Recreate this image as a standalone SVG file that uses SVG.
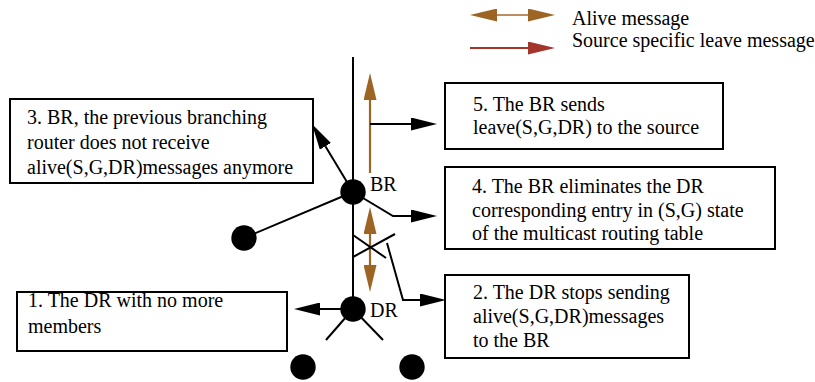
<svg xmlns="http://www.w3.org/2000/svg" width="815" height="382" viewBox="0 0 815 382">
<style>
text{font-family:"Liberation Serif","Times New Roman",serif;font-size:20px;fill:#000}
.box{fill:#fff;stroke:#000;stroke-width:2}
.ln{fill:none;stroke:#000;stroke-width:2}
.br{fill:none;stroke:#9C6524;stroke-width:2.2}
.dot{fill:#000}
</style>
<defs>
<marker id="ah" viewBox="0 0 26 13" refX="0" refY="6.5" markerWidth="26" markerHeight="13" markerUnits="userSpaceOnUse" orient="auto"><path d="M0,0 L26,6.5 L0,13 z" fill="#000"/></marker>
<marker id="ahb" viewBox="0 0 27 13" refX="0" refY="6.5" markerWidth="27" markerHeight="13" markerUnits="userSpaceOnUse" orient="auto-start-reverse"><path d="M0,0 L27,6.5 L0,13 z" fill="#9C6524"/></marker>
<marker id="ahr" viewBox="0 0 27 13" refX="0" refY="6.5" markerWidth="27" markerHeight="13" markerUnits="userSpaceOnUse" orient="auto"><path d="M0,0 L27,6.5 L0,13 z" fill="#A3352A"/></marker>
</defs>

<g id="legend">
<line x1="497" y1="15" x2="528" y2="15" stroke="#A8733A" stroke-width="1.6" marker-start="url(#ahb)" marker-end="url(#ahb)"/>
<text x="572" y="25">Alive message</text>
<line x1="470" y1="48" x2="528" y2="48" stroke="#A3352A" stroke-width="2" marker-end="url(#ahr)"/>
<text x="572" y="47">Source specific leave message</text>
</g>

<g id="connectors">
<line class="ln" x1="353" y1="57" x2="353" y2="309"/>
<line class="br" x1="370" y1="173" x2="370" y2="100" marker-end="url(#ahb)"/>
<line class="ln" x1="370" y1="124" x2="411" y2="124" marker-end="url(#ah)"/>
<line class="ln" x1="353" y1="192" x2="325.4" y2="146.3" marker-end="url(#ah)"/>
<line class="ln" x1="353" y1="192" x2="244" y2="238"/>
<polyline class="ln" points="353,192 393,216 411,216" marker-end="url(#ah)"/>
<line class="br" x1="370" y1="234" x2="370" y2="265" marker-start="url(#ahb)" marker-end="url(#ahb)"/>
<line class="ln" x1="353" y1="235" x2="386" y2="258"/>
<line class="ln" x1="353" y1="257" x2="395" y2="234"/>
<polyline class="ln" points="387,243 403,300 420,300" marker-end="url(#ah)"/>
<line class="ln" x1="353" y1="309" x2="320" y2="309" marker-end="url(#ah)"/>
<line class="ln" x1="353" y1="309" x2="326" y2="340"/>
<line class="ln" x1="353" y1="309" x2="383" y2="340"/>
</g>

<g id="BR">
<circle class="dot" cx="353" cy="192" r="12.7"/>
<text x="370" y="191">BR</text>
</g>
<g id="DR">
<circle class="dot" cx="353" cy="309" r="12.7"/>
<text x="370" y="317">DR</text>
</g>
<g id="router-left"><circle class="dot" cx="244" cy="238" r="12.7"/></g>
<g id="router-bottom-left"><circle class="dot" cx="303" cy="367" r="12.7"/></g>
<g id="router-bottom-right"><circle class="dot" cx="412" cy="367" r="12.7"/></g>

<g id="box3">
<rect class="box" x="10" y="99" width="303" height="84"/>
<text x="27" y="124">3. BR, the previous branching</text>
<text x="27" y="149">router does not receive</text>
<text x="27" y="174">alive(S,G,DR)messages anymore</text>
</g>
<g id="box5">
<rect class="box" x="445" y="83" width="278" height="66"/>
<text x="473" y="111">5. The BR sends</text>
<text x="473" y="134">leave(S,G,DR) to the source</text>
</g>
<g id="box4">
<rect class="box" x="445" y="167" width="330" height="82"/>
<text x="472" y="193">4. The BR eliminates the DR</text>
<text x="472" y="216.5">corresponding entry in (S,G) state</text>
<text x="472" y="240">of the multicast routing table</text>
</g>
<g id="box1">
<rect class="box" x="17" y="292" width="270" height="59"/>
<text x="28" y="307">1. The DR with no more</text>
<text x="28" y="333">members</text>
</g>
<g id="box2">
<rect class="box" x="445" y="275" width="244" height="83"/>
<text x="473" y="299">2. The DR stops sending</text>
<text x="473" y="323">alive(S,G,DR)messages</text>
<text x="473" y="347">to the BR</text>
</g>
</svg>
